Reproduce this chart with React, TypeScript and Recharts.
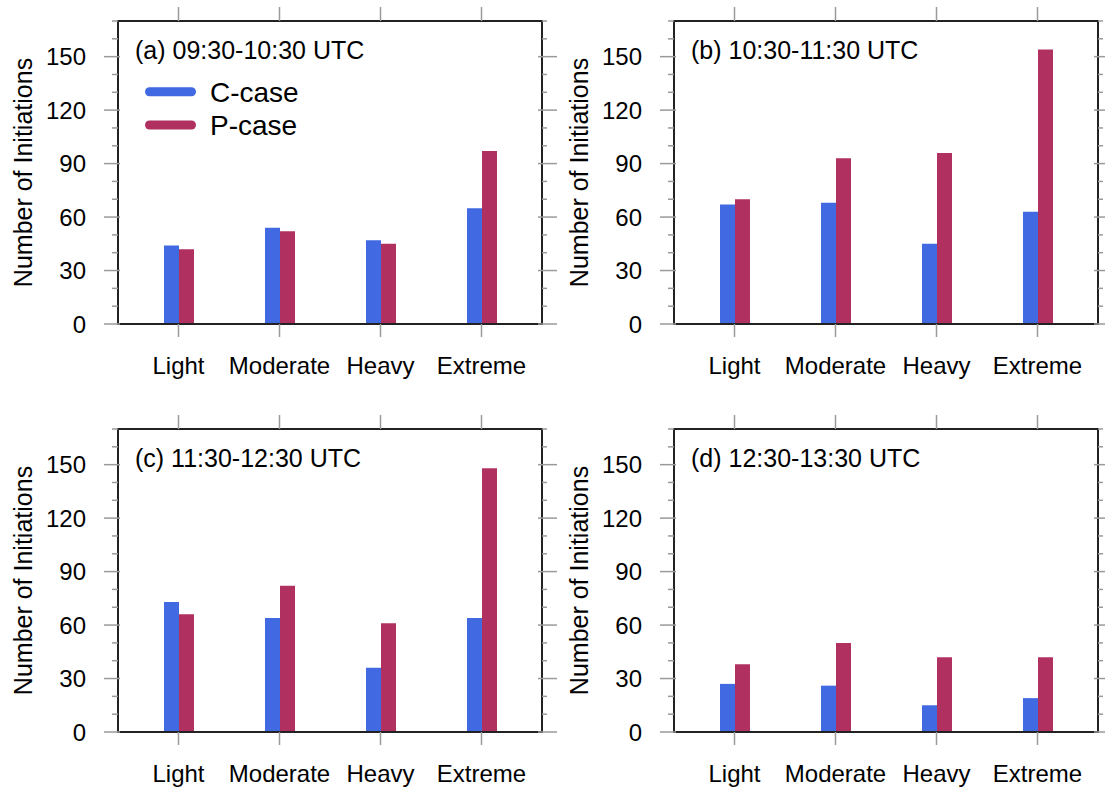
import { BarChart, Bar, XAxis, YAxis, Legend } from "recharts";

const categories = ["Light", "Moderate", "Heavy", "Extreme"];

const titles = [
  "(a) 09:30-10:30 UTC",
  "(b) 10:30-11:30 UTC",
  "(c) 11:30-12:30 UTC",
  "(d) 12:30-13:30 UTC",
];

const cCaseA = [44, 54, 47, 65];
const pCaseA = [42, 52, 45, 97];
const cCaseB = [67, 68, 45, 63];
const pCaseB = [70, 93, 96, 154];
const cCaseC = [73, 64, 36, 64];
const pCaseC = [66, 82, 61, 148];
const cCaseD = [27, 26, 15, 19];
const pCaseD = [38, 50, 42, 42];

const yTicks = [0, 10, 20, 30, 40, 50, 60, 70, 80, 90, 100, 110, 120, 130, 140, 150, 160, 170];
const majorTicks = [0, 30, 60, 90, 120, 150];

const FONT = '"Liberation Sans", Arial, Helvetica, sans-serif';
const TICK = "#9a9a9a";
const FRAME = "#222";
const BLUE = "#4169e1";
const MAROON = "#b03060";

function LeftTick({ x, y, payload }: any) {
  const major = majorTicks.includes(payload.value);
  return (
    <g>
      <line x1={x - (major ? 14 : 6)} x2={x + (major ? 2 : 0)} y1={y} y2={y} stroke={TICK} strokeWidth={1.5} />
      {major && (
        <text x={x - 32} y={y + 8.5} textAnchor="end" fontSize={24} fontFamily={FONT} fill="#000">
          {payload.value}
        </text>
      )}
    </g>
  );
}

function RightTick({ x, y, payload }: any) {
  const major = majorTicks.includes(payload.value);
  return <line x1={x - (major ? 4 : 0)} x2={x + (major ? 15 : 5)} y1={y} y2={y} stroke={TICK} strokeWidth={1.5} />;
}

function BottomTick({ x, y, payload }: any) {
  return (
    <g>
      <line x1={x} x2={x} y1={y} y2={y + 13} stroke={TICK} strokeWidth={1.5} />
      <text x={x} y={y + 50} textAnchor="middle" fontSize={24} fontFamily={FONT} fill="#000">
        {payload.value}
      </text>
    </g>
  );
}

function TopTick({ x, y }: any) {
  return <line x1={x} x2={x} y1={y - 14} y2={y} stroke={TICK} strokeWidth={1.5} />;
}

function PanelTitle({ viewBox, text }: any) {
  const vb = viewBox || { x: 0, y: 0, width: 0, height: 0 };
  return (
    <text x={vb.x + 17} y={vb.y + vb.height + 38} fontSize={25} fontFamily={FONT} fill="#000">
      {text}
    </text>
  );
}

function YTitle({ viewBox }: any) {
  const vb = viewBox || { x: 0, y: 0, width: 0, height: 0 };
  const cx = vb.x + vb.width - 86;
  const cy = vb.y + vb.height / 2;
  return (
    <text
      x={cx}
      y={cy}
      transform={`rotate(-90 ${cx} ${cy})`}
      textAnchor="middle"
      fontSize={25}
      fontFamily={FONT}
      fill="#000"
    >
      Number of Initiations
    </text>
  );
}

function LegendBox({ payload }: any) {
  return (
    <svg width={170} height={68} style={{ display: "block" }}>
      {(payload || []).map((p: any, i: number) => (
        <g key={i}>
          <line
            x1={9.5}
            x2={51.5}
            y1={16.7 + i * 33.3}
            y2={16.7 + i * 33.3}
            stroke={p.color}
            strokeWidth={9}
            strokeLinecap="round"
          />
          <text x={70} y={26.7 + i * 33.3} fontSize={28} fontFamily={FONT} fill="#000">
            {p.value}
          </text>
        </g>
      ))}
    </svg>
  );
}

interface PanelProps {
  title: string;
  cVals: number[];
  pVals: number[];
  left: number;
  top: number;
  width: number;
  legend?: boolean;
}

function Panel({ title, cVals, pVals, left, top, width, legend }: PanelProps) {
  const data = categories.map((cat, i) => ({ cat, c: cVals[i], p: pVals[i] }));
  const frame = { stroke: FRAME, strokeWidth: 2, strokeLinecap: "square" as const };
  return (
    <div style={{ position: "absolute", left, top }}>
      <BarChart
        width={width}
        height={400}
        data={data}
        barSize={15}
        barGap={0}
        margin={{ top: 6, bottom: 16, left: 58, right: width - 548 }}
      >
        <XAxis
          xAxisId="bottom"
          dataKey="cat"
          type="category"
          padding={{ left: 10, right: 10 }}
          height={60}
          interval={0}
          tickSize={0}
          tickMargin={0}
          tickLine={false}
          tick={BottomTick}
          axisLine={frame}
        />
        <XAxis
          xAxisId="top"
          orientation="top"
          dataKey="cat"
          type="category"
          padding={{ left: 10, right: 10 }}
          height={15}
          interval={0}
          tickSize={0}
          tickMargin={0}
          tickLine={false}
          tick={TopTick}
          axisLine={frame}
          label={<PanelTitle text={title} />}
        />
        <YAxis
          yAxisId="left"
          type="number"
          domain={[0, 170]}
          ticks={yTicks}
          allowDataOverflow
          interval={0}
          width={60}
          tickSize={0}
          tickMargin={0}
          tickLine={false}
          tick={LeftTick}
          axisLine={frame}
          label={<YTitle />}
        />
        <YAxis
          yAxisId="right"
          orientation="right"
          type="number"
          domain={[0, 170]}
          ticks={yTicks}
          allowDataOverflow
          interval={0}
          width={6}
          tickSize={0}
          tickMargin={0}
          tickLine={false}
          tick={RightTick}
          axisLine={frame}
        />
        {legend && (
          <Legend
            layout="vertical"
            align="center"
            verticalAlign="middle"
            width={170}
            height={68}
            wrapperStyle={{ left: 140, top: 75 }}
            content={LegendBox}
          />
        )}
        <Bar xAxisId="bottom" yAxisId="left" dataKey="c" name="C-case" fill={BLUE} isAnimationActive={false} />
        <Bar xAxisId="bottom" yAxisId="left" dataKey="p" name="P-case" fill={MAROON} isAnimationActive={false} />
      </BarChart>
    </div>
  );
}

export default function App() {
  return (
    <div
      style={{
        position: "absolute",
        left: 0,
        top: 0,
        width: 1105,
        height: 789,
        background: "#fff",
        overflow: "hidden",
        fontFamily: FONT,
      }}
    >
      <Panel title={titles[0]} cVals={cCaseA} pVals={pCaseA} left={0} top={0} width={560} legend />
      <Panel title={titles[1]} cVals={cCaseB} pVals={pCaseB} left={556} top={0} width={549} />
      <Panel title={titles[2]} cVals={cCaseC} pVals={pCaseC} left={0} top={408} width={560} />
      <Panel title={titles[3]} cVals={cCaseD} pVals={pCaseD} left={556} top={408} width={549} />
    </div>
  );
}
